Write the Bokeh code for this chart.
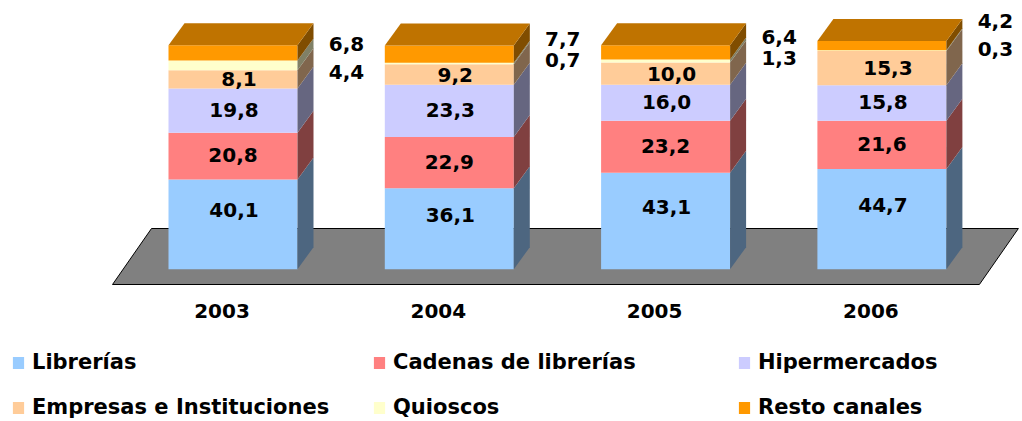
from bokeh.plotting import figure
from bokeh.models import Range1d, Legend, LegendItem
from bokeh.core.properties import value
from bokeh.embed import file_html
from bokeh.resources import INLINE

# ---------------- data ----------------
years = ["2003", "2004", "2005", "2006"]
series_names = ["Librerías", "Cadenas de librerías", "Hipermercados",
                "Empresas e Instituciones", "Quioscos", "Resto canales"]
librerias = [40.1, 36.1, 43.1, 44.7]
cadenas = [20.8, 22.9, 23.2, 21.6]
hipermercados = [19.8, 23.3, 16.0, 15.8]
empresas = [8.1, 9.2, 10.0, 15.3]
quioscos = [4.4, 0.7, 1.3, 0.3]
resto = [6.8, 7.7, 6.4, 4.2]
series = [librerias, cadenas, hipermercados, empresas, quioscos, resto]

# ---------------- styles ----------------
front_colors = ["#99CCFF", "#FF8080", "#CCCCFF", "#FFCC99", "#FFFFCC", "#FF9900"]
side_colors = ["#4D6680", "#804040", "#666680", "#80664D", "#808066", "#804D00"]
top_color = "#BF7300"
floor_color = "#808080"
FONT = "DejaVu Sans"

# ---------------- layout (pixels) ----------------
W, H = 1022, 421
PXX = 216.3          # pixels per category step
PXY = 2.24           # pixels per value unit
X0 = 232.5           # pixel x of first category centre
Y0 = 268.7           # pixel y (from top) of value 0
BAR_W = 129 / PXX
DX = 16 / PXX        # depth offset of the 3D bars
DY = 22 / PXY

# label placements (pixels; positive = up / right)
inside_dy = [14, 1, 1, 0]          # per series (first four)
inside_dx = [1, 0, 1, 6]
outside_dx = 49                    # from the right edge of the front face
resto_dy = [9, 15, 15, 25]
quioscos_dy = [-7, 3, 3, 1.5]
cat_dx = -11
cat_dy = -26

p = figure(width=W, height=H, output_backend="svg", toolbar_location=None,
           x_range=Range1d(-X0 / PXX, (W - X0) / PXX),
           y_range=Range1d((Y0 - H) / PXY, Y0 / PXY),
           x_axis_location=None, y_axis_location=None, min_border=0)
p.grid.visible = False
p.outline_line_color = None
p.background_fill_color = "white"
p.border_fill_color = "white"

n = len(years)
xs = list(range(n))

# ---------------- floor ----------------
f_front = -15.3 / PXY
f_back = f_front + 56 / PXY
f_left = xs[0] - 120.5 / PXX
f_right = xs[-1] + 97.5 / PXX
f_skew = 39 / PXX
p.patch([f_left, f_right, f_right + f_skew, f_left + f_skew],
        [f_front, f_front, f_back, f_back],
        fill_color=floor_color, line_color="black", line_width=1)

# ---------------- bars ----------------
bottoms = [0.0] * n
front_renderers = []
for k, vals in enumerate(series):
    tops = [b + v for b, v in zip(bottoms, vals)]
    r = p.vbar(x=xs, bottom=bottoms, top=tops, width=BAR_W,
               fill_color=front_colors[k], line_color=None)
    front_renderers.append(r)
    side_x, side_y = [], []
    for i in range(n):
        xr = xs[i] + BAR_W / 2
        side_x.append([xr, xr + DX, xr + DX, xr])
        side_y.append([bottoms[i], bottoms[i] + DY, tops[i] + DY, tops[i]])
    p.patches(side_x, side_y, fill_color=side_colors[k], line_color=None)
    # labels
    txt = [f"{v:.1f}".replace(".", ",") for v in vals]
    mids = [(b + t) / 2 for b, t in zip(bottoms, tops)]
    if k < 4:
        p.text(x=[x + inside_dx[k] / PXX for x in xs],
               y=[m + inside_dy[k] / PXY for m in mids], text=txt,
               text_font=value(FONT), text_font_style="bold", text_font_size="20px",
               text_align="center", text_baseline="middle", text_color="black")
    else:
        dys = quioscos_dy if k == 4 else resto_dy
        p.text(x=[x + BAR_W / 2 + outside_dx / PXX for x in xs],
               y=[m + d / PXY for m, d in zip(mids, dys)], text=txt,
               text_font=value(FONT), text_font_style="bold", text_font_size="20px",
               text_align="center", text_baseline="middle", text_color="black")
    bottoms = tops

# top faces
top_x, top_y = [], []
for i in range(n):
    xl = xs[i] - BAR_W / 2
    xr = xs[i] + BAR_W / 2
    t = bottoms[i]
    top_x.append([xl, xl + DX, xr + DX, xr])
    top_y.append([t, t + DY, t + DY, t])
p.patches(top_x, top_y, fill_color=top_color, line_color=None)

# category labels
p.text(x=[x + cat_dx / PXX for x in xs], y=[f_front + cat_dy / PXY] * n, text=years,
       text_font=value(FONT), text_font_style="bold", text_font_size="20px",
       text_align="center", text_baseline="middle", text_color="black")

# ---------------- legend ----------------
columns = [[0, 3], [1, 4], [2, 5]]
col_x = [11, 372, 737]
for idxs, cx in zip(columns, col_x):
    items = [LegendItem(label=series_names[k], renderers=[front_renderers[k]]) for k in idxs]
    leg = Legend(items=items, location=(cx, 2), orientation="vertical",
                 glyph_width=14, glyph_height=15, label_standoff=7, spacing=21,
                 padding=0, margin=0, border_line_color=None,
                 background_fill_alpha=0, label_text_font=FONT,
                 label_text_font_style="bold", label_text_font_size="21px",
                 label_text_color="black")
    p.add_layout(leg)

open("out.html", "w").write(file_html(p, INLINE))
